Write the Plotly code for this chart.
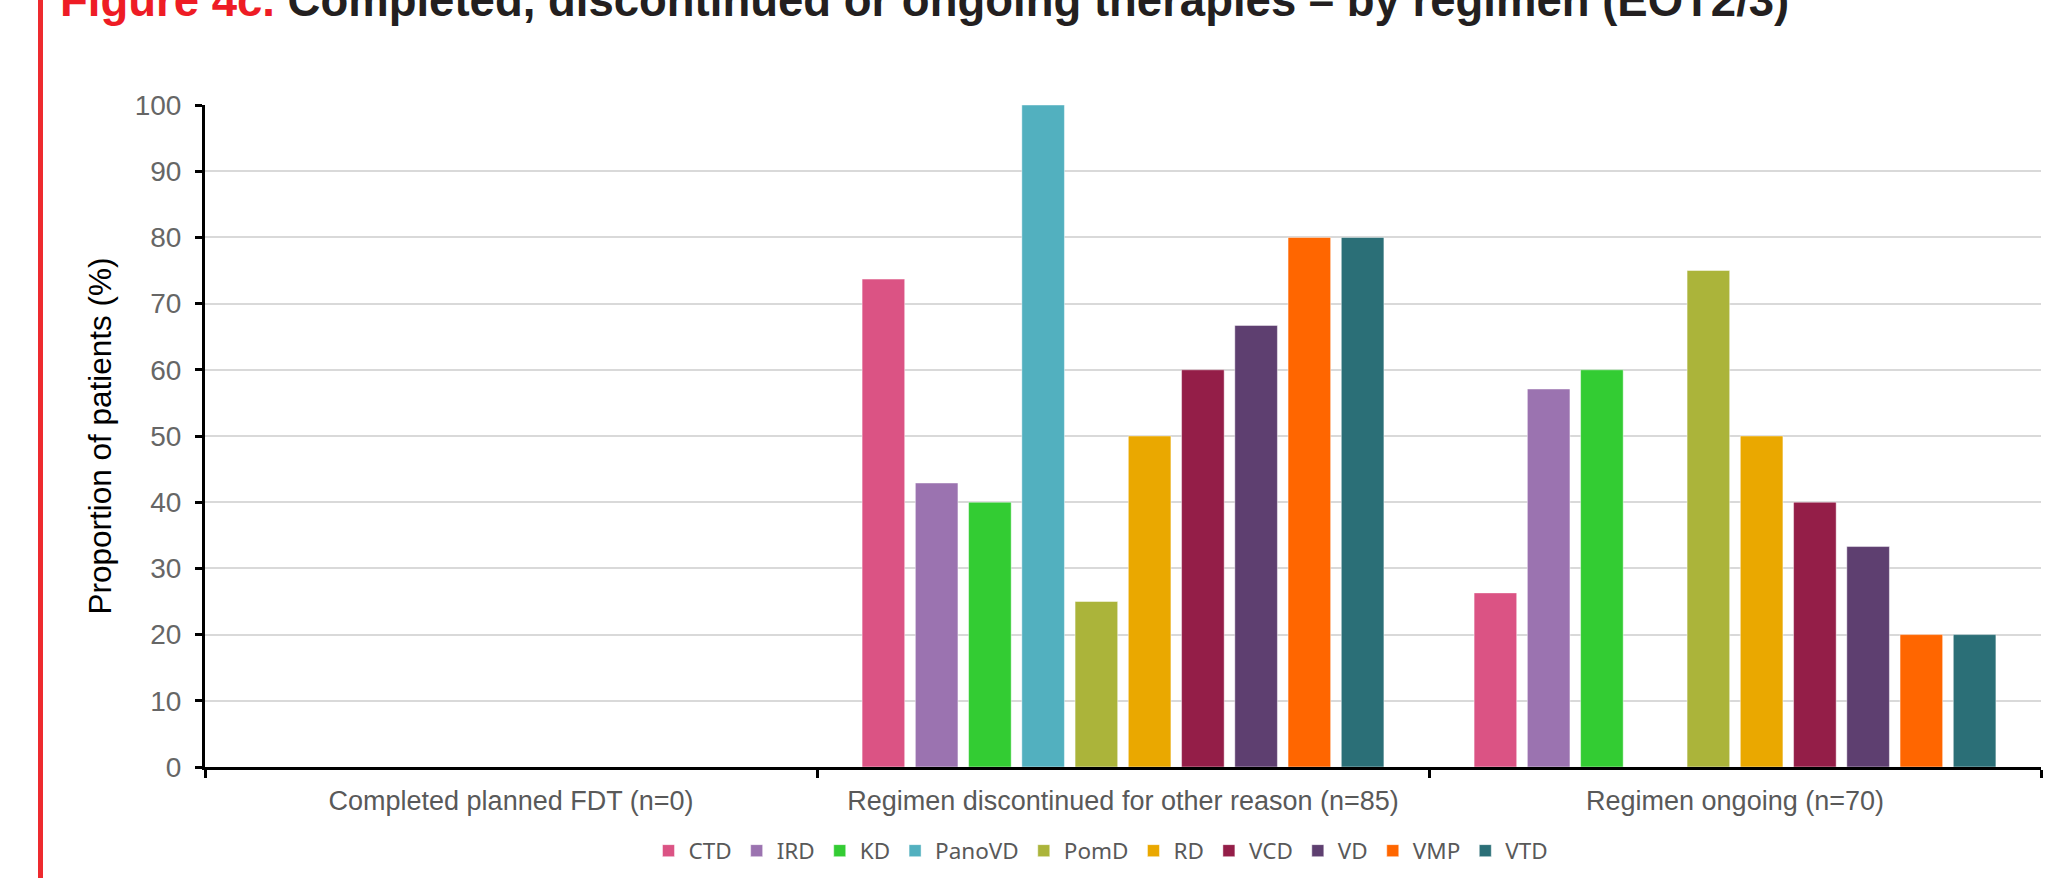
import plotly.graph_objects as go

# Outcome categories on the x axis
categories = [
    "Completed planned FDT (n=0)",
    "Regimen discontinued for other reason (n=85)",
    "Regimen ongoing (n=70)",
]

# Regimens and their proportion of patients (%) per outcome category
regimens = ["CTD", "IRD", "KD", "PanoVD", "PomD", "RD", "VCD", "VD", "VMP", "VTD"]
ctd = [0, 73.7, 26.3]
ird = [0, 42.9, 57.1]
kd = [0, 40.0, 60.0]
panovd = [0, 100.0, 0]
pomd = [0, 25.0, 75.0]
rd = [0, 50.0, 50.0]
vcd = [0, 60.0, 40.0]
vd = [0, 66.7, 33.3]
vmp = [0, 80.0, 20.0]
vtd = [0, 80.0, 20.0]
series_values = [ctd, ird, kd, panovd, pomd, rd, vcd, vd, vmp, vtd]

colors = ["#DB5384", "#9B73B0", "#33CC33", "#52B0BF", "#ABB43A",
          "#EAA800", "#941E48", "#5E3F70", "#FF6600", "#2B6F77"]

y_ticks = list(range(0, 101, 10))

fig = go.Figure()
for name, vals, col in zip(regimens, series_values, colors):
    fig.add_trace(go.Bar(
        name=name,
        x=categories,
        y=vals,
        marker=dict(color=col, line=dict(color="rgba(255,255,255,0.45)", width=1)),
    ))

W, H = 2058, 878
ml, mr, mt, mb = 205, 17, 105, 111
plot_h = H - mt - mb
plot_w = W - ml - mr


def py(pix):
    # pixel row -> paper y
    return (H - mb - pix) / plot_h


def px(pix):
    # pixel column -> paper x
    return (pix - ml) / plot_w


fig.update_layout(
    width=W,
    height=H,
    margin=dict(l=ml, r=mr, t=mt, b=mb, autoexpand=False),
    paper_bgcolor="white",
    plot_bgcolor="white",
    barmode="group",
    bargap=0.13,
    bargroupgap=0.2,
    font=dict(family="Liberation Sans, Arial, sans-serif", color="#595959"),
    legend=dict(
        orientation="h",
        x=px(1101),
        xanchor="center",
        y=py(851),
        yanchor="middle",
        font=dict(family="Noto Sans, sans-serif", size=22.5, color="#595959"),
        itemwidth=30,
        tracegroupgap=0,
    ),
    showlegend=True,
)

fig.update_xaxes(
    type="category",
    automargin=False,
    showline=True,
    linecolor="black",
    linewidth=3,
    ticks="outside",
    tickson="boundaries",
    ticklen=8,
    tickwidth=3,
    tickcolor="black",
    tickfont=dict(size=27, color="#595959"),
    ticklabelstandoff=8,
    showgrid=False,
)

fig.update_yaxes(
    range=[0, 100],
    tickvals=y_ticks,
    automargin=False,
    showline=True,
    linecolor="black",
    linewidth=3,
    ticks="outside",
    ticklen=7,
    tickwidth=3,
    tickcolor="black",
    tickfont=dict(size=28, color="#666666"),
    ticklabelstandoff=8,
    showgrid=True,
    gridcolor="#D9D9D9",
    gridwidth=1.5,
    zeroline=False,
    title=dict(text="Proportion of patients (%)",
               font=dict(size=31.5, color="black"), standoff=14),
)

# Heading, partly above the top edge of the page
fig.add_annotation(
    xref="paper", yref="paper",
    x=px(58), y=py(1), xanchor="left", yanchor="middle",
    text="<b><span style='color:#EE1C25'>Figure 4c.</span> Completed, discontinued or ongoing therapies \u2013 by regimen (EOT2/3)</b>",
    showarrow=False,
    font=dict(family="Liberation Sans, Arial, sans-serif", size=45.5, color="#231F20"),
)

# Red rule down the left edge
fig.add_shape(
    type="line", xref="paper", yref="paper",
    x0=px(40.5), x1=px(40.5), y0=py(-5), y1=py(H + 5),
    line=dict(color="#EE2A2F", width=5),
)

fig.write_html("out.html")
